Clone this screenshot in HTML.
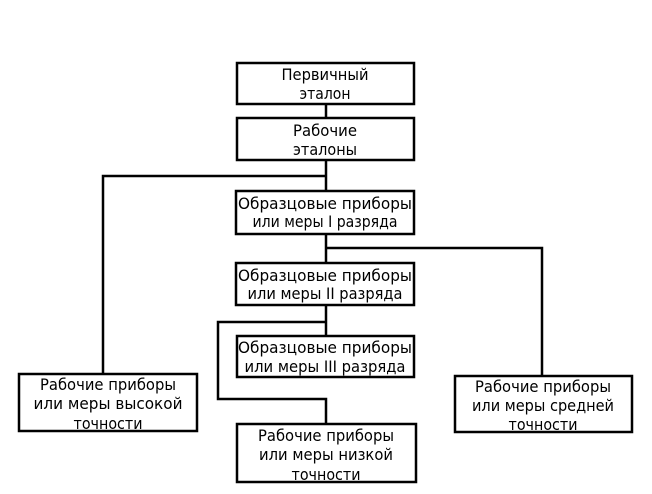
<!DOCTYPE html>
<html><head><meta charset="utf-8"><style>
html,body{margin:0;padding:0;background:#fff;}
svg{display:block;}
text{font-family:"DejaVu Sans","Liberation Sans",sans-serif;font-size:16px;fill:#000;text-anchor:middle;}
</style></head><body>
<svg width="652" height="494" viewBox="0 0 652 494" xmlns="http://www.w3.org/2000/svg">
<g stroke="#000" stroke-width="2.5" fill="none">
<line x1="326" y1="104" x2="326" y2="118"/>
<line x1="326" y1="160" x2="326" y2="191"/>
<polyline points="326,176 103,176 103,374"/>
<line x1="326" y1="233" x2="326" y2="263"/>
<polyline points="326,248 542,248 542,376"/>
<line x1="326" y1="305" x2="326" y2="336"/>
<polyline points="326,322 218,322 218,399 326,399 326,424"/>
<rect x="237" y="63" width="177" height="41" fill="#fff"/>
<rect x="237" y="118" width="177" height="42" fill="#fff"/>
<rect x="236" y="191" width="178" height="43" fill="#fff"/>
<rect x="236" y="263" width="178" height="42" fill="#fff"/>
<rect x="237" y="336" width="177" height="41" fill="#fff"/>
<rect x="237" y="424" width="179" height="58" fill="#fff"/>
<rect x="19" y="374" width="178" height="57" fill="#fff"/>
<rect x="455" y="376" width="177" height="56" fill="#fff"/>
</g>
<text x="325" y="80" textLength="87" lengthAdjust="spacingAndGlyphs">Первичный</text>
<text x="325" y="99" textLength="51" lengthAdjust="spacingAndGlyphs">эталон</text>
<text x="325" y="136" textLength="64" lengthAdjust="spacingAndGlyphs">Рабочие</text>
<text x="325" y="155" textLength="64" lengthAdjust="spacingAndGlyphs">эталоны</text>
<text x="325" y="209" textLength="174" lengthAdjust="spacingAndGlyphs">Образцовые приборы</text>
<text x="325" y="227" textLength="145" lengthAdjust="spacingAndGlyphs">или меры I разряда</text>
<text x="325" y="281" textLength="174" lengthAdjust="spacingAndGlyphs">Образцовые приборы</text>
<text x="325" y="299" textLength="155" lengthAdjust="spacingAndGlyphs">или меры II разряда</text>
<text x="325" y="353" textLength="174" lengthAdjust="spacingAndGlyphs">Образцовые приборы</text>
<text x="325" y="372" textLength="161" lengthAdjust="spacingAndGlyphs">или меры III разряда</text>
<text x="108" y="390" textLength="136" lengthAdjust="spacingAndGlyphs">Рабочие приборы</text>
<text x="108" y="409" textLength="149" lengthAdjust="spacingAndGlyphs">или меры высокой</text>
<text x="108" y="429" textLength="69" lengthAdjust="spacingAndGlyphs">точности</text>
<text x="326" y="441" textLength="136" lengthAdjust="spacingAndGlyphs">Рабочие приборы</text>
<text x="326" y="460" textLength="134" lengthAdjust="spacingAndGlyphs">или меры низкой</text>
<text x="326" y="480" textLength="69" lengthAdjust="spacingAndGlyphs">точности</text>
<text x="543" y="392" textLength="136" lengthAdjust="spacingAndGlyphs">Рабочие приборы</text>
<text x="543" y="411" textLength="142" lengthAdjust="spacingAndGlyphs">или меры средней</text>
<text x="543" y="430" textLength="69" lengthAdjust="spacingAndGlyphs">точности</text>
</svg>
</body></html>
